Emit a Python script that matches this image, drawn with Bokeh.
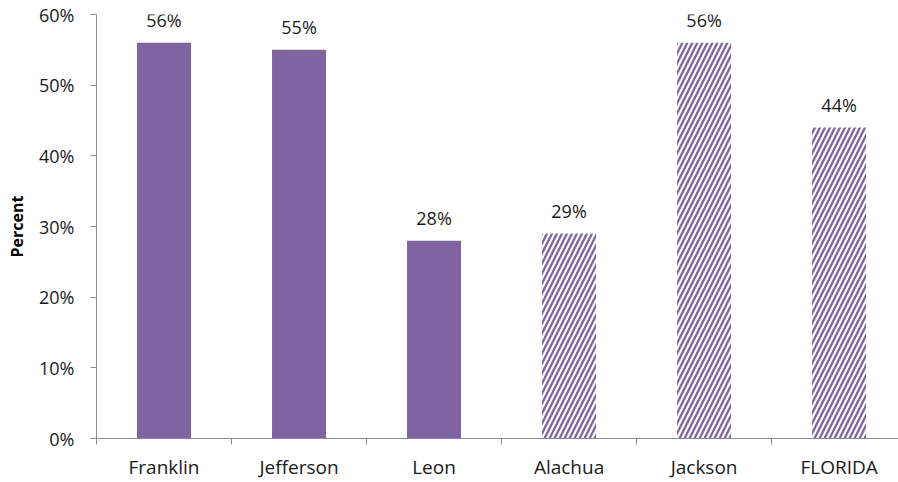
from bokeh.plotting import figure
from bokeh.models import FixedTicker, ColumnDataSource, NumeralTickFormatter
from bokeh.core.properties import value
from bokeh.embed import file_html
from bokeh.resources import INLINE

categories = ["Franklin", "Jefferson", "Leon", "Alachua", "Jackson", "FLORIDA"]
values = [56, 55, 28, 29, 56, 44]
hatched = [False, False, False, True, True, True]
y_ticks = [0, 10, 20, 30, 40, 50, 60]

PURPLE = "#8064A2"
FONT = "Open Sans"

xs = [i + 0.5 for i in range(len(categories))]
labels = [f"{v}%" for v in values]

solid = ColumnDataSource(dict(
    x=[x for x, h in zip(xs, hatched) if not h],
    top=[v for v, h in zip(values, hatched) if not h]))
striped = ColumnDataSource(dict(
    x=[x for x, h in zip(xs, hatched) if h],
    top=[v for v, h in zip(values, hatched) if h]))
lab = ColumnDataSource(dict(x=xs, y=values, t=labels))

p = figure(width=898, height=482, output_backend="svg", toolbar_location=None,
           x_range=(0, 5.94), y_range=(0, 60),
           min_border_left=96, min_border_right=0, min_border_top=14, min_border_bottom=43)
p.outline_line_color = None
p.background_fill_color = "white"
p.border_fill_color = "white"
p.grid.grid_line_color = None

p.vbar(x="x", top="top", bottom=0, width=0.4, source=solid,
       fill_color=PURPLE, line_color=None)
p.vbar(x="x", top="top", bottom=0, width=0.4, source=striped,
       fill_color="white", line_color=None,
       hatch_pattern="/", hatch_color=PURPLE, hatch_scale=10, hatch_weight=2.3)

p.text(x="x", y="y", text="t", source=lab, text_align="center", text_baseline="bottom",
       y_offset=-11, text_font=value(FONT), text_font_size="18px", text_color="#1a1a1a")

# x axis
p.xaxis.ticker = FixedTicker(ticks=xs, minor_ticks=list(range(len(categories) + 1)))
p.xaxis.major_label_overrides = {x: c for x, c in zip(xs, categories)}
p.xaxis.major_tick_line_color = None
p.xaxis.major_tick_out = 0
p.xaxis.major_tick_in = 0
p.xaxis.minor_tick_out = 6
p.xaxis.minor_tick_in = 0
p.xaxis.minor_tick_line_color = "#8c8c8c"
p.xaxis.axis_line_color = "#8c8c8c"
p.xaxis.major_label_text_font = FONT
p.xaxis.major_label_text_font_size = "19px"
p.xaxis.major_label_text_color = "#1a1a1a"
p.xaxis.major_label_standoff = 9

# y axis
p.yaxis.ticker = FixedTicker(ticks=y_ticks)
p.yaxis.formatter = NumeralTickFormatter(format="0")
p.yaxis.major_label_overrides = {t: f"{t}%" for t in y_ticks}
p.yaxis.minor_tick_line_color = None
p.yaxis.major_tick_out = 6
p.yaxis.major_tick_in = 0
p.yaxis.major_tick_line_color = "#8c8c8c"
p.yaxis.axis_line_color = "#8c8c8c"
p.yaxis.major_label_text_font = FONT
p.yaxis.major_label_text_font_size = "18px"
p.yaxis.major_label_text_color = "#1a1a1a"
p.yaxis.major_label_standoff = 16
p.yaxis.axis_label = "Percent"
p.yaxis.axis_label_text_font = FONT
p.yaxis.axis_label_text_font_size = "16px"
p.yaxis.axis_label_text_font_style = "bold"
p.yaxis.axis_label_text_color = "#000000"
p.yaxis.axis_label_standoff = 8

open("out.html", "w").write(file_html(p, INLINE))
